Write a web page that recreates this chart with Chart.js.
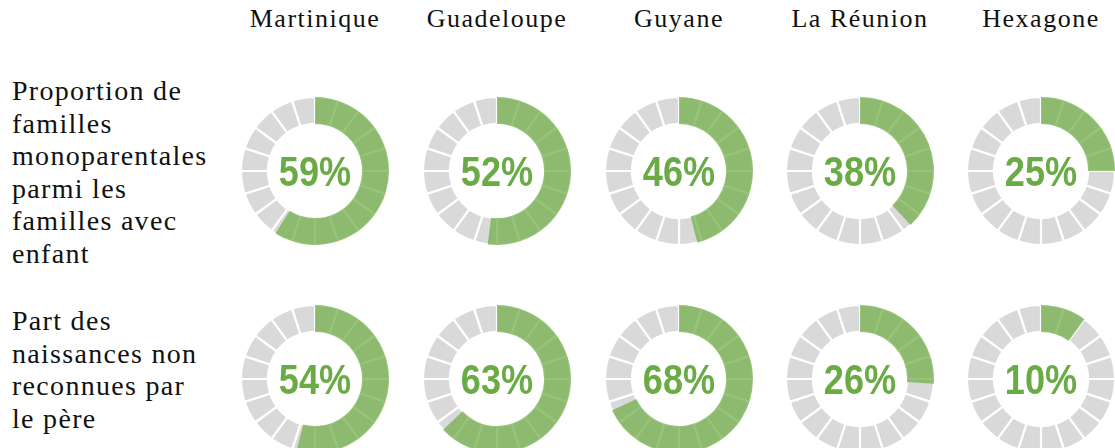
<!DOCTYPE html>
<html><head><meta charset="utf-8">
<script src="https://cdn.jsdelivr.net/npm/chart.js@4"></script>
<style>
html,body{margin:0;padding:0;background:#fff;}
#wrap{position:relative;width:1115px;height:448px;overflow:hidden;}
.hdr{position:absolute;top:4px;width:180px;margin-left:-90px;text-align:center;font-family:"Liberation Serif",serif;font-size:26px;letter-spacing:1.5px;color:#111;white-space:nowrap;}
.rowlab{position:absolute;left:12px;font-family:"Liberation Serif",serif;font-size:28px;line-height:32.5px;letter-spacing:1.3px;color:#111;}
.cell{position:absolute;width:150px;height:150px;}
.cell canvas{position:absolute;left:0;top:0;}
.pct{position:absolute;left:0;top:0;width:150px;height:150px;line-height:150px;text-align:center;font-family:"Liberation Sans",sans-serif;font-weight:bold;font-size:43px;color:#6aab45;transform:scaleX(0.84);}
</style></head>
<body><div id="wrap"></div>
<script>
const categories = ["Martinique","Guadeloupe","Guyane","La Réunion","Hexagone"];
const rowLabels = [
  ["Proportion de","familles","monoparentales","parmi les","familles avec","enfant"],
  ["Part des","naissances non","reconnues par","le père"]
];
const monoparentales = [59,52,46,38,25];
const nonReconnues = [54,63,68,26,10];
const series = [monoparentales, nonReconnues];
const segmentCount = 20;

const colX = [315,497,679,860,1041];
const rowY = [171,379];
const wrap = document.getElementById('wrap');

categories.forEach((c,i)=>{
  const d=document.createElement('div');d.className='hdr';d.style.left=colX[i]+'px';d.textContent=c;wrap.appendChild(d);
});
const labTops=[75,305];
rowLabels.forEach((lines,r)=>{
  const d=document.createElement('div');d.className='rowlab';d.style.top=labTops[r]+'px';
  d.innerHTML=lines.join('<br>');wrap.appendChild(d);
});

const common = {
  responsive:false, animation:false, radius:74, cutout:47,
  plugins:{legend:{display:false},tooltip:{enabled:false}},
  events:[]
};

series.forEach((vals,r)=>{
  vals.forEach((v,i)=>{
    const cell=document.createElement('div');cell.className='cell';
    cell.style.left=(colX[i]-75)+'px';cell.style.top=(rowY[r]-75)+'px';
    const c1=document.createElement('canvas');c1.width=150;c1.height=150;
    const c2=document.createElement('canvas');c2.width=150;c2.height=150;
    cell.appendChild(c1);cell.appendChild(c2);
    const t=document.createElement('div');t.className='pct';t.textContent=v+'%';cell.appendChild(t);
    wrap.appendChild(cell);
    new Chart(c1,{type:'doughnut',data:{labels:Array(segmentCount).fill(''),datasets:[{
      data:Array(segmentCount).fill(100/segmentCount),backgroundColor:'#d9d9d9',borderColor:'#ffffff',borderWidth:2.2
    }]},options:common});
    new Chart(c2,{type:'doughnut',data:{labels:['oui','non'],datasets:[{
      data:[v,100-v],backgroundColor:['rgba(112,173,71,0.72)','rgba(0,0,0,0)'],borderColor:'rgba(0,0,0,0)',borderWidth:2.2
    }]},options:common});
  });
});
</script></body></html>
